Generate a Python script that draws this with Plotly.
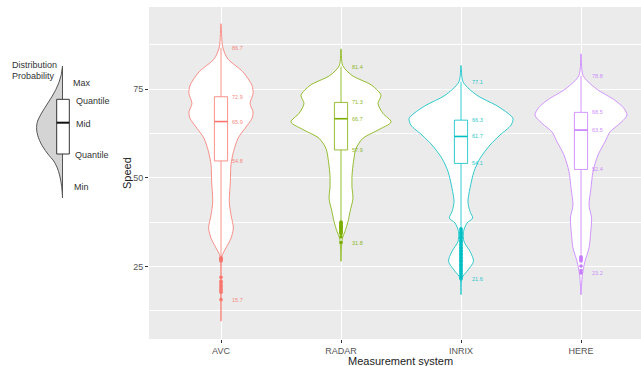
import plotly.graph_objects as go

# ---------------- data ----------------
categories = ["AVC", "RADAR", "INRIX", "HERE"]
colors = ["#F8766D", "#7CAE00", "#00BFC4", "#C77CFF"]

# labelled summary statistics
stat_max = [86.7, 81.4, 77.1, 78.8]
stat_q3 = [72.9, 71.3, 66.3, 68.5]
stat_median = [65.9, 66.7, 61.7, 63.5]
stat_q1 = [54.8, 57.9, 54.1, 52.4]
stat_min = [15.7, 31.8, 21.6, 23.2]
whisker_low = [27.7, 37.9, 36.0, 28.4]

# violin outlines: speed and half-width (category units)
avc_speed = [93.5, 86.9, 83.6, 79.9, 76.1, 73.8, 71.0, 68.6, 66.8, 64.0, 61.2, 57.4,
             53.7, 49.0, 43.3, 39.6, 35.9, 33.0, 30.3, 27.9, 25.0, 9.6]
avc_width = [0.000, 0.014, 0.056, 0.183, 0.258, 0.267, 0.242, 0.267, 0.258, 0.200, 0.142, 0.104,
             0.083, 0.078, 0.069, 0.083, 0.103, 0.083, 0.042, 0.007, 0.002, 0.000]

radar_speed = [86.4, 81.7, 78.9, 76.1, 73.3, 71.0, 68.2, 65.8, 63.5, 61.2, 58.3, 54.6,
               50.8, 47.1, 44.3, 40.5, 37.7, 34.9, 33.1, 30.0, 26.5]
radar_width = [0.000, 0.014, 0.092, 0.258, 0.333, 0.308, 0.350, 0.417, 0.308, 0.183, 0.125, 0.104,
               0.092, 0.092, 0.100, 0.075, 0.058, 0.033, 0.012, 0.003, 0.000]

inrix_speed = [81.7, 77.1, 73.3, 70.5, 68.2, 66.8, 64.9, 62.1, 59.3, 55.5, 51.8, 47.1,
               43.3, 40.5, 38.7, 37.3, 34.9, 32.1, 29.3, 26.5, 23.7, 21.8, 17.1]
inrix_width = [0.000, 0.017, 0.133, 0.292, 0.392, 0.433, 0.417, 0.325, 0.242, 0.158, 0.108, 0.075,
               0.058, 0.075, 0.097, 0.050, 0.021, 0.025, 0.075, 0.104, 0.050, 0.008, 0.000]

here_speed = [85.0, 78.9, 75.2, 71.9, 69.6, 67.7, 65.4, 63.0, 60.2, 56.5, 51.8, 47.1,
              42.4, 38.7, 34.0, 30.3, 26.5, 22.8, 17.1]
here_width = [0.000, 0.017, 0.125, 0.283, 0.358, 0.383, 0.325, 0.242, 0.200, 0.142, 0.100, 0.083,
              0.067, 0.088, 0.079, 0.067, 0.033, 0.012, 0.000]

# outlying observations below the lower whisker
avc_outliers = [27.5, 27.3, 27.1, 26.9, 26.6, 22.0, 20.9, 20.4, 19.8, 19.3, 18.8, 18.3, 17.8, 15.7]
radar_outliers = [37.6, 37.3, 37.0, 36.7, 36.4, 36.1, 35.8, 35.5, 35.2, 34.9, 34.6, 34.3, 33.4, 31.8]
inrix_outliers = [35.7, 35.3, 34.8, 34.5, 34.1, 33.6, 33.2, 32.9, 32.4, 32.1, 31.7, 31.2, 30.9,
                  30.4, 30.1, 29.6, 29.3, 28.8, 28.5, 28.1, 27.6, 27.3, 26.8, 26.5, 26.1, 25.6,
                  25.3, 24.9, 24.4, 24.1, 23.7, 23.2, 22.9, 22.4, 22.1, 21.6]
here_outliers = [27.8, 27.5, 27.2, 26.9, 26.6, 25.2, 23.9, 23.2]

profiles = [(avc_speed, avc_width), (radar_speed, radar_width),
            (inrix_speed, inrix_width), (here_speed, here_width)]
outliers = [avc_outliers, radar_outliers, inrix_outliers, here_outliers]

# ---------------- figure ----------------
fig = go.Figure()
box_half = 0.055

for i, cat in enumerate(categories):
    c = i + 1
    col = colors[i]
    sp, wd = profiles[i]
    # violin: left side top->bottom, right side bottom->top
    xs = [c - w for w in wd] + [c + w for w in reversed(wd)]
    ys = list(sp) + list(reversed(sp))
    fig.add_trace(go.Scatter(x=xs, y=ys, mode="lines", fill="toself", fillcolor="white",
                             line=dict(color=col, width=0.8, shape="spline", smoothing=0.8),
                             hoverinfo="skip", showlegend=False))
    # whiskers
    fig.add_trace(go.Scatter(x=[c, c, None, c, c], y=[stat_q3[i], stat_max[i], None, stat_q1[i], whisker_low[i]],
                             mode="lines", line=dict(color=col, width=0.8), hoverinfo="skip", showlegend=False))
    # box
    fig.add_trace(go.Scatter(x=[c - box_half, c + box_half, c + box_half, c - box_half, c - box_half],
                             y=[stat_q1[i], stat_q1[i], stat_q3[i], stat_q3[i], stat_q1[i]],
                             mode="lines", fill="toself", fillcolor="white",
                             line=dict(color=col, width=0.8), hoverinfo="skip", showlegend=False))
    # median
    fig.add_trace(go.Scatter(x=[c - box_half, c + box_half], y=[stat_median[i], stat_median[i]],
                             mode="lines", line=dict(color=col, width=1.6), hoverinfo="skip", showlegend=False))
    # outliers
    fig.add_trace(go.Scatter(x=[c] * len(outliers[i]), y=outliers[i], mode="markers",
                             marker=dict(color=col, size=3.6, line=dict(width=0)),
                             hoverinfo="skip", showlegend=False))
    # value labels
    for v in [stat_max[i], stat_q3[i], stat_median[i], stat_q1[i], stat_min[i]]:
        fig.add_annotation(x=c + 0.14, y=v, text=f"{v:.1f}", showarrow=False,
                           font=dict(size=5.5, color=col, family="Liberation Sans"),
                           xanchor="center", yanchor="middle", opacity=0.85)

# ---------------- layout ----------------
L, T, R, B = 149, 7, 0, 27
W, H = 641, 366
pw, ph = W - L - R, H - T - B


def px(x):
    return (x - L) / pw


def py(y):
    return (H - B - y) / ph


fig.update_layout(
    width=W, height=H,
    margin=dict(l=L, r=R, t=T, b=B),
    paper_bgcolor="white",
    plot_bgcolor="#EBEBEB",
    font=dict(family="Liberation Sans", color="#4D4D4D"),
    xaxis=dict(range=[0.4, 0.4 + pw / 120.0], tickmode="array", tickvals=[1, 2, 3, 4],
               ticktext=categories, showgrid=True, gridcolor="white", gridwidth=1,
               zeroline=False, ticks="outside", ticklen=3, tickcolor="#333333", tickwidth=0.8,
               tickfont=dict(size=9, color="#555555")),
    yaxis=dict(range=[4.6, 98.2], tickmode="linear", tick0=0, dtick=25,
               showgrid=True, gridcolor="white", gridwidth=1, zeroline=False,
               ticks="outside", ticklen=3, tickcolor="#333333", tickwidth=0.8,
               tickfont=dict(size=9, color="#555555"),
               minor=dict(dtick=12.5, tick0=0, showgrid=True, gridcolor="white", gridwidth=0.5, ticks="")),
)

# axis titles
fig.add_annotation(x=px(400.5), y=0, xref="paper", yref="paper", yshift=-21.5, text="Measurement system",
                   showarrow=False, font=dict(size=11, color="#222222"), xanchor="center", yanchor="middle")
fig.add_annotation(x=0, y=0.5, xref="paper", yref="paper", xshift=-22, text="Speed", textangle=-90,
                   showarrow=False, font=dict(size=11, color="#222222"), xanchor="center", yanchor="middle")

# ---------------- reading guide (left) ----------------
pts = [(62.5, 66), (61, 90), (45, 104), (38, 120), (33, 133), (42, 148), (53, 160),
       (59, 168), (62, 182), (62.5, 198)]
path = "M {:.5f},{:.5f} ".format(px(pts[0][0]), py(pts[0][1]))
for k in range(1, len(pts) - 1, 3):
    a, b, d = pts[k], pts[k + 1], pts[k + 2]
    path += "C {:.5f},{:.5f} {:.5f},{:.5f} {:.5f},{:.5f} ".format(px(a[0]), py(a[1]), px(b[0]), py(b[1]),
                                                                 px(d[0]), py(d[1]))
path += "Z"
fig.add_shape(type="path", path=path, xref="paper", yref="paper",
              fillcolor="#D4D4D4", line=dict(color="#555555", width=1), layer="above")
fig.add_shape(type="rect", xref="paper", yref="paper", x0=px(56.7), x1=px(69.3), y0=py(154), y1=py(99.3),
              fillcolor="white", line=dict(color="#333333", width=1), layer="above")
fig.add_shape(type="line", xref="paper", yref="paper", x0=px(56.7), x1=px(69.3), y0=py(122.7), y1=py(122.7),
              line=dict(color="#111111", width=2), layer="above")

guide_text = [("Distribution", 10, 65), ("Probability", 10, 76), ("Max", 71, 82.5),
              ("Quantile", 74, 100.7), ("Mid", 74, 124), ("Quantile", 73.3, 155), ("Min", 72.3, 186.7)]
for txt, gx, gy in guide_text:
    fig.add_annotation(x=px(gx), y=py(gy), xref="paper", yref="paper", text=txt, showarrow=False,
                       xanchor="left", yanchor="middle", font=dict(size=9, color="#333333"))

fig.write_html("out.html")
